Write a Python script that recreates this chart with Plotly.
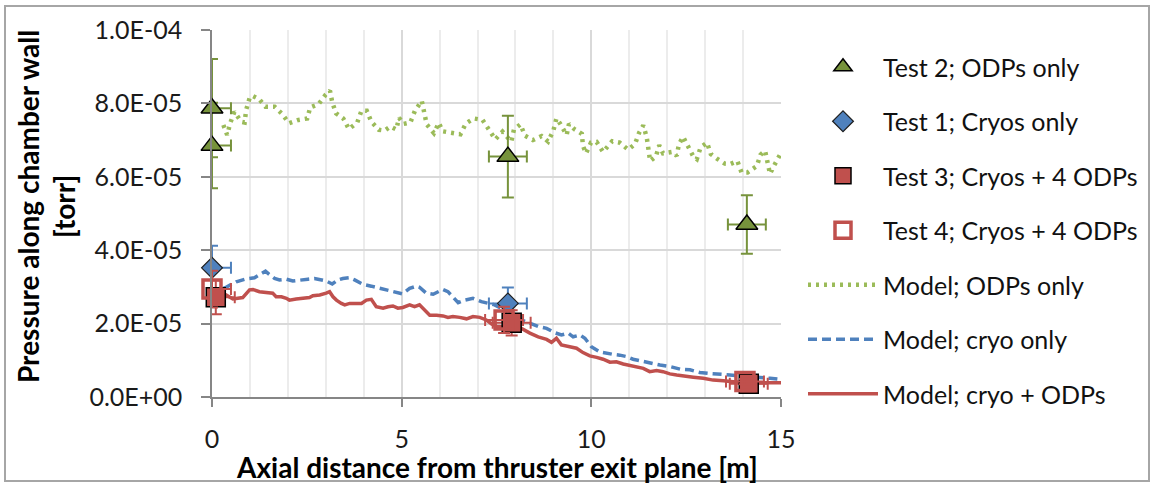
import plotly.graph_objects as go

# ---- Model curves: axial position [m] and wall pressure [1e-5 torr] ----
x_model_odp = [0.30, 0.40, 0.48, 0.59, 0.77, 0.86, 0.90, 0.99, 1.06, 1.24, 1.41, 1.65, 1.85, 2.03,
               2.28, 2.51, 2.59, 2.81, 2.99, 3.11, 3.17, 3.27, 3.46, 3.61, 3.83, 3.94, 4.08, 4.20,
               4.40, 4.55, 4.70, 4.86, 4.93, 5.05, 5.23, 5.35, 5.53, 5.59, 5.66, 5.85, 5.98, 6.08,
               6.31, 6.55, 6.69, 6.90, 7.13, 7.30, 7.47, 7.66, 7.89, 7.96, 8.13, 8.25, 8.46, 8.69,
               8.86, 9.00, 9.08, 9.17, 9.35, 9.41, 9.55, 9.75, 9.78, 9.86, 9.99, 10.14, 10.31,
               10.55, 10.75, 10.97, 11.15, 11.26, 11.37, 11.46, 11.50, 11.55, 11.70, 11.79, 11.89,
               12.13, 12.25, 12.31, 12.42, 12.55, 12.69, 12.78, 12.88, 13.05, 13.15, 13.32, 13.52,
               13.67, 13.85, 13.96, 14.12, 14.36, 14.46, 14.58, 14.71, 14.82, 15.00]
y_model_odp = [7.41, 7.14, 7.46, 7.77, 7.50, 7.48, 7.82, 8.14, 8.21, 8.12, 7.91, 7.91, 7.71, 7.46,
               7.55, 7.59, 7.89, 7.98, 8.23, 8.35, 8.03, 7.73, 7.59, 7.30, 7.48, 7.80, 7.80, 7.50,
               7.28, 7.26, 7.37, 7.29, 7.61, 7.44, 7.48, 7.80, 8.07, 7.75, 7.43, 7.19, 7.47, 7.24,
               7.19, 7.16, 7.45, 7.59, 7.55, 7.29, 7.02, 7.23, 6.96, 7.29, 7.43, 7.12, 7.00, 7.11,
               6.96, 7.26, 7.59, 7.46, 7.14, 7.44, 7.30, 7.17, 6.84, 6.64, 6.93, 6.95, 6.68,
               6.97, 6.93, 6.74, 6.89, 7.20, 7.40, 7.08, 6.76, 6.43, 6.55, 6.86, 6.64,
               6.68, 6.57, 6.89, 7.09, 6.80, 6.55, 6.48, 6.80, 6.93, 6.62, 6.49, 6.36,
               6.35, 6.43, 6.12, 6.12, 6.29, 6.60, 6.71, 6.08, 6.31, 6.65]

x_model_cryo = [0.30, 0.37, 0.64, 0.90, 1.12, 1.30, 1.41, 1.50, 1.65, 1.78, 1.96, 2.13, 2.31, 2.53,
                2.70, 2.88, 3.01, 3.17, 3.32, 3.45, 3.63, 3.76, 3.98, 4.20, 4.42, 4.64, 4.86, 5.02,
                5.21, 5.39, 5.47, 5.65, 5.83, 6.09, 6.22, 6.35, 6.49, 6.66, 6.88, 7.10, 7.28, 7.45,
                7.65, 7.89, 8.16, 8.38, 8.60, 8.82, 9.04, 9.21, 9.39, 9.52, 9.70, 9.83, 10.00,
                10.22, 10.40, 10.58, 10.75, 10.93, 11.10, 11.28, 11.54, 11.81, 12.07, 12.34, 12.60,
                12.86, 13.13, 13.39, 13.65, 13.92, 14.18, 14.45, 14.71, 15.00]
y_model_cryo = [2.96, 2.99, 3.14, 3.22, 3.25, 3.37, 3.43, 3.35, 3.23, 3.19, 3.21, 3.16, 3.19, 3.21,
                3.23, 3.19, 3.16, 3.08, 3.19, 3.23, 3.25, 3.19, 3.07, 3.02, 2.96, 2.90, 2.83, 2.81,
                2.96, 3.02, 2.99, 2.83, 2.80, 2.93, 2.87, 2.73, 2.57, 2.64, 2.69, 2.60, 2.55, 2.51,
                2.40, 2.23, 2.10, 2.01, 1.92, 1.87, 1.75, 1.69, 1.74, 1.64, 1.69, 1.60, 1.37,
                1.23, 1.19, 1.16, 1.14, 1.10, 1.03, 0.99, 0.92, 0.87, 0.83, 0.76, 0.74,
                0.67, 0.64, 0.63, 0.60, 0.58, 0.55, 0.53, 0.51, 0.48]

x_model_both = [0.30, 0.37, 0.55, 0.81, 0.99, 1.08, 1.25, 1.43, 1.60, 1.69, 1.83, 1.96, 2.04, 2.22,
                2.40, 2.57, 2.66, 2.84, 3.01, 3.10, 3.19, 3.28, 3.41, 3.50, 3.63, 3.80, 3.94, 4.07,
                4.20, 4.33, 4.51, 4.64, 4.77, 4.90, 5.03, 5.21, 5.34, 5.47, 5.61, 5.74, 5.92, 6.09,
                6.22, 6.35, 6.53, 6.71, 6.88, 7.06, 7.23, 7.37, 7.50, 7.75, 8.16, 8.38, 8.60, 8.82,
                8.95, 9.08, 9.21, 9.43, 9.61, 9.78, 9.96, 10.14, 10.31, 10.49, 10.66, 10.84, 11.10,
                11.37, 11.54, 11.72, 11.89, 12.07, 12.25, 12.42, 12.69, 12.95, 13.21, 13.48, 13.74,
                14.01, 14.36, 14.71, 15.00]
y_model_both = [2.80, 2.78, 2.67, 2.71, 2.92, 2.93, 2.87, 2.84, 2.83, 2.73, 2.73, 2.69, 2.64, 2.67,
                2.69, 2.71, 2.76, 2.78, 2.83, 2.87, 2.73, 2.64, 2.55, 2.51, 2.55, 2.55, 2.55, 2.64,
                2.66, 2.46, 2.42, 2.46, 2.48, 2.42, 2.44, 2.51, 2.46, 2.51, 2.37, 2.23, 2.23, 2.21,
                2.17, 2.19, 2.17, 2.13, 2.19, 2.17, 2.10, 1.99, 1.93, 1.92, 1.87, 1.74, 1.64, 1.57,
                1.49, 1.60, 1.42, 1.37, 1.33, 1.21, 1.12, 1.08, 1.03, 0.95, 0.96, 0.90, 0.84,
                0.78, 0.69, 0.72, 0.69, 0.63, 0.60, 0.57, 0.54, 0.51, 0.46, 0.44, 0.42,
                0.39, 0.39, 0.39, 0.39]

# ---- Measurements: axial position [m], pressure [1e-5 torr] ----
x_test2 = [0.0, 0.0, 7.8, 14.1]
y_test2 = [7.87, 6.85, 6.55, 4.70]
x_test1 = [0.0, 7.8]
y_test1 = [3.52, 2.55]
x_test3 = [0.1, 7.9, 14.15]
y_test3 = [2.72, 2.02, 0.36]
x_test4 = [0.0, 7.7, 14.05]
y_test4 = [2.94, 2.10, 0.42]

err_pct = 17.0      # relative pressure uncertainty [%]
err_x = 0.5         # probe position uncertainty [m]

y_ticks = [0, 2e-5, 4e-5, 6e-5, 8e-5, 1e-4]
y_tick_text = ["0.0E+00", "2.0E-05", "4.0E-05", "6.0E-05", "8.0E-05", "1.0E-04"]
x_ticks = [0, 5, 10, 15]

GREEN_M = "#77933C"
GREEN_L = "#9BBB59"
BLUE = "#4F81BD"
RED = "#C0504D"
FONT = "Lato"


def torr(vals):
    return [v * 1e-5 for v in vals]


def xerr(xs, color):
    # horizontal bars are not drawn to the left of the thruster exit plane
    return dict(type="data", symmetric=False, array=[err_x] * len(xs),
                arrayminus=[min(err_x, x) for x in xs], color=color, thickness=2, width=6)


def yerr(color):
    return dict(type="percent", value=err_pct, color=color, thickness=2, width=6)


fig = go.Figure()

# model curves
fig.add_trace(go.Scatter(x=x_model_odp, y=torr(y_model_odp), mode="lines", name="Model; ODPs only",
                         line=dict(color=GREEN_L, width=4.5, dash="3px,5px"),
                         legendgroup="m1", legendrank=5))
fig.add_trace(go.Scatter(x=x_model_cryo, y=torr(y_model_cryo), mode="lines", name="Model; cryo only",
                         line=dict(color=BLUE, width=3.5, dash="9px,5px"),
                         legendgroup="m2", legendrank=6))
fig.add_trace(go.Scatter(x=x_model_both, y=torr(y_model_both), mode="lines", name="Model; cryo + ODPs",
                         line=dict(color=RED, width=3.5),
                         legendgroup="m3", legendrank=7))


# measurements
def add_test(xs, ys, name, symbol, size, fill, edge, edge_w, ecolor, rank):
    fig.add_trace(go.Scatter(
        x=xs, y=torr(ys), mode="markers", name=name, cliponaxis=False,
        marker=dict(symbol=symbol, size=size, color=fill, line=dict(color=edge, width=edge_w)),
        error_y=yerr(ecolor), error_x=xerr(xs, ecolor), legendgroup=name, legendrank=rank))


add_test(x_test2, y_test2, "Test 2; ODPs only", "triangle-up", 19, GREEN_M, "#000000", 1.5, GREEN_M, 1)
add_test(x_test1, y_test1, "Test 1; Cryos only", "diamond", 16, BLUE, "#1f1f1f", 1.2, BLUE, 2)
add_test(x_test3, y_test3, "Test 3; Cryos + 4 ODPs", "square", 19, RED, "#000000", 1.5, RED, 3)
add_test(x_test4, y_test4, "Test 4; Cryos + 4 ODPs", "square-open", 18, RED, RED, 3.5, RED, 4)

L, R, T, B = 212, 372, 30, 88
W, H = 1153, 485
pw, ph = W - L - R, H - T - B


def px_x(p):
    return (p - L) / pw


def px_y(p):
    return (H - B - p) / ph


fig.update_layout(
    width=W, height=H,
    margin=dict(l=L, r=R, t=T, b=B, autoexpand=False),
    paper_bgcolor="white", plot_bgcolor="white",
    font=dict(family=FONT, size=25, color="#1a1a1a"),
    showlegend=True,
    legend=dict(x=px_x(803), xanchor="left", y=px_y(44), yanchor="top",
                font=dict(family=FONT, size=25, color="#111111"),
                itemwidth=70, tracegroupgap=19, traceorder="grouped",
                maxheight=440, bgcolor="rgba(0,0,0,0)"),
    xaxis=dict(range=[0, 15], tickvals=x_ticks, ticks="outside", ticklen=8, tickwidth=1.5,
               tickcolor="#868686", showline=True, linecolor="#868686", linewidth=1.5,
               showgrid=True, gridcolor="#d9d9d9", gridwidth=1.5, zeroline=False,
               minor=dict(dtick=1, showgrid=True, gridcolor="#ececec", gridwidth=1.5),
               tickfont=dict(family=FONT, size=25, color="#1a1a1a"), ticklabelstandoff=11),
    yaxis=dict(range=[0, 1e-4], tickvals=y_ticks, ticktext=y_tick_text, ticks="outside",
               ticklen=9, tickwidth=1.5, tickcolor="#868686", showline=True,
               linecolor="#868686", linewidth=1.5, showgrid=True, gridcolor="#d9d9d9",
               gridwidth=1.5, zeroline=False,
               tickfont=dict(family=FONT, size=25, color="#1a1a1a"), ticklabelstandoff=14),
    annotations=[
        dict(text="<b>Pressure along chamber wall<br>[torr]</b>", textangle=-90,
             x=px_x(46), y=px_y(207), xref="paper", yref="paper", showarrow=False,
             xanchor="center", yanchor="middle",
             font=dict(family=FONT, size=28, color="#000000")),
        dict(text="<b>Axial distance from thruster exit plane [m]</b>",
             x=px_x(497), y=px_y(467), xref="paper", yref="paper", showarrow=False,
             xanchor="center", yanchor="middle",
             font=dict(family=FONT, size=28, color="#000000")),
    ],
    shapes=[dict(type="rect", xref="paper", yref="paper",
                 x0=px_x(5), x1=px_x(1149), y0=px_y(481), y1=px_y(6),
                 line=dict(color="#a6a6a6", width=2), fillcolor="rgba(0,0,0,0)", layer="below")],
)

fig.write_html("out.html")
